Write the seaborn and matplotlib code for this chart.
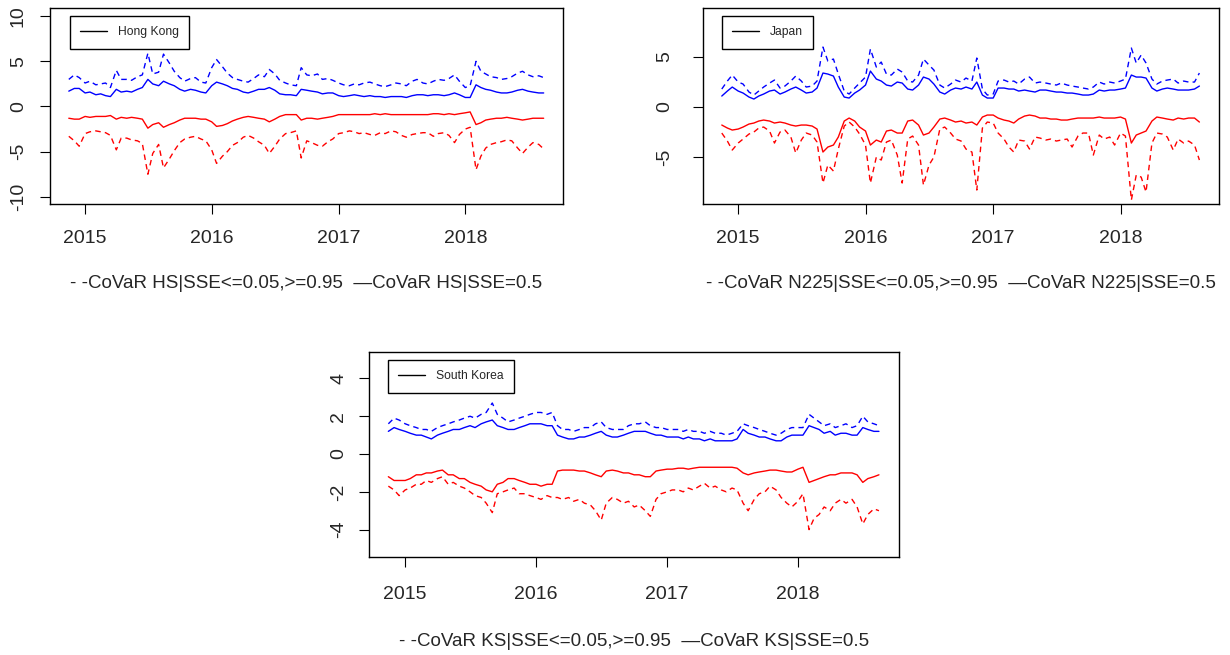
import pandas as pd
import numpy as np
import seaborn as sns
import matplotlib.pyplot as plt
from matplotlib.lines import Line2D

sns.set_style('ticks')
plt.rcParams['font.family'] = ['Liberation Sans', 'DejaVu Sans']

# semi-monthly readings, Nov 2014 - Aug 2018
dates = pd.date_range('2014-11-15', '2018-08-15', freq='SMS')

# Hong Kong
hk_up = [3.0, 3.5, 3.2, 2.6, 2.8, 2.4, 2.5, 2.6, 2.1, 4.0,
         3.0, 3.0, 2.9, 3.3, 3.5, 5.9, 3.6, 3.8, 5.8, 4.8,
         3.9, 3.2, 2.8, 3.1, 3.2, 2.7, 2.6, 4.3, 5.2, 4.4,
         3.7, 3.2, 3.0, 2.8, 2.7, 3.1, 3.5, 3.3, 4.1, 3.6,
         2.9, 2.6, 2.4, 2.3, 4.3, 3.5, 3.4, 3.6, 3.0, 3.1,
         2.9, 2.6, 2.4, 2.3, 2.5, 2.4, 2.6, 2.7, 2.5, 2.3,
         2.2, 2.4, 2.6, 2.5, 2.3, 2.8, 3.0, 2.6, 2.5, 2.8,
         3.0, 2.9, 3.1, 3.5, 2.8, 2.1, 2.3, 5.0, 3.9, 3.6,
         3.3, 3.2, 3.0, 3.1, 3.3, 3.7, 3.9, 3.5, 3.3, 3.4,
         3.2]
hk_mid_up = [1.7, 2.0, 2.0, 1.5, 1.6, 1.3, 1.4, 1.2, 1.1, 1.9,
             1.6, 1.7, 1.6, 1.9, 2.1, 3.0, 2.5, 2.3, 2.8, 2.5,
             2.3, 1.9, 1.7, 1.9, 1.8, 1.6, 1.5, 2.3, 2.7, 2.5,
             2.3, 2.0, 1.9, 1.6, 1.5, 1.7, 1.9, 1.9, 2.1, 1.8,
             1.4, 1.3, 1.3, 1.2, 1.9, 1.8, 1.7, 1.6, 1.4, 1.5,
             1.5, 1.2, 1.1, 1.2, 1.3, 1.2, 1.1, 1.2, 1.1, 1.1,
             1.0, 1.1, 1.1, 1.1, 1.0, 1.2, 1.3, 1.3, 1.2, 1.3,
             1.3, 1.2, 1.3, 1.5, 1.3, 1.0, 1.0, 2.4, 2.1, 1.9,
             1.8, 1.6, 1.5, 1.5, 1.6, 1.8, 1.9, 1.7, 1.6, 1.5,
             1.5]
hk_mid_lo = [-1.3, -1.4, -1.4, -1.1, -1.2, -1.1, -1.1, -1.1, -1.0, -1.4,
             -1.2, -1.3, -1.2, -1.3, -1.4, -2.4, -2.0, -1.8, -2.3, -2.0,
             -1.8, -1.5, -1.3, -1.3, -1.3, -1.4, -1.4, -1.7, -2.2, -2.1,
             -1.9, -1.6, -1.4, -1.2, -1.1, -1.2, -1.3, -1.4, -1.7, -1.4,
             -1.1, -0.9, -0.9, -0.9, -1.5, -1.3, -1.3, -1.4, -1.3, -1.2,
             -1.1, -0.9, -0.9, -0.9, -0.9, -0.9, -0.9, -0.9, -0.8, -0.9,
             -0.8, -0.9, -0.9, -0.9, -0.9, -0.9, -0.9, -0.9, -0.9, -0.8,
             -0.8, -0.9, -0.8, -0.9, -0.8, -0.7, -0.6, -2.0, -1.8, -1.5,
             -1.4, -1.3, -1.3, -1.2, -1.3, -1.4, -1.5, -1.4, -1.3, -1.3,
             -1.3]
hk_lo = [-3.3, -3.8, -4.4, -3.0, -2.8, -2.7, -2.8, -2.9, -3.2, -4.8,
         -3.5, -3.5, -3.7, -3.8, -4.1, -7.5, -5.2, -4.2, -6.8, -5.8,
         -4.9, -4.0, -3.6, -3.4, -3.3, -3.6, -3.8, -4.8, -6.3, -5.5,
         -5.0, -4.3, -4.0, -3.4, -3.2, -3.5, -3.9, -4.3, -5.2, -4.4,
         -3.6, -3.0, -2.9, -2.7, -5.7, -3.8, -4.0, -4.3, -4.4, -3.9,
         -3.6, -3.0, -2.9, -2.7, -2.8, -3.0, -2.9, -3.1, -3.2, -2.9,
         -3.0, -2.7, -2.8, -3.2, -3.4, -3.1, -3.0, -2.9, -2.9, -3.3,
         -3.0, -2.9, -3.2, -4.0, -3.1, -2.5, -2.3, -7.0, -5.5, -4.6,
         -4.2, -4.0, -3.9, -3.7, -3.8, -4.6, -5.2, -4.5, -4.0, -4.2,
         -4.7]

# Japan
jp_up = [1.8, 2.6, 3.2, 2.5, 2.3, 1.5, 1.2, 1.6, 2.0, 2.4,
         2.7, 1.9, 2.1, 2.6, 3.1, 2.6, 2.0, 2.1, 2.6, 6.0,
         4.6, 4.8, 3.3, 1.6, 1.3, 1.9, 2.4, 3.0, 5.8, 4.0,
         4.5, 3.3, 3.2, 3.8, 3.5, 2.6, 2.5, 3.2, 4.8, 4.2,
         3.7, 2.2, 1.9, 2.3, 2.7, 2.5, 2.9, 2.6, 4.9, 1.8,
         1.2, 1.3, 2.6, 2.7, 2.5, 2.6, 2.3, 2.8, 3.0, 2.4,
         2.5, 2.4, 2.3, 2.2, 2.4, 2.2, 2.1, 2.0, 1.9, 1.8,
         2.0, 2.5, 2.3, 2.5, 2.4, 2.6, 2.8, 5.9, 4.4, 5.2,
         4.4, 2.8, 2.3, 2.6, 2.7, 2.8, 2.4, 2.6, 2.5, 2.5,
         3.4]
jp_mid_up = [1.1, 1.6, 2.0, 1.6, 1.4, 1.0, 0.8, 1.1, 1.3, 1.6,
             1.7, 1.3, 1.5, 1.8, 2.0, 1.7, 1.4, 1.5, 1.9, 3.4,
             3.3, 3.1, 2.0, 1.0, 0.9, 1.4, 1.7, 2.2, 3.6, 2.8,
             2.6, 2.2, 2.1, 2.5, 2.4, 1.8, 1.7, 2.2, 3.0, 2.8,
             2.3, 1.5, 1.3, 1.7, 1.9, 1.8, 2.0, 1.8, 2.5, 1.2,
             0.9, 0.9, 1.9, 1.9, 1.8, 1.8, 1.6, 1.7, 1.6, 1.5,
             1.7, 1.7, 1.6, 1.5, 1.5, 1.4, 1.4, 1.3, 1.2, 1.2,
             1.3, 1.7, 1.6, 1.7, 1.7, 1.8, 1.9, 3.2, 3.0, 3.0,
             2.9, 1.9, 1.6, 1.8, 1.9, 1.8, 1.7, 1.7, 1.7, 1.8,
             2.1]
jp_mid_lo = [-1.8, -2.1, -2.3, -2.2, -2.0, -1.7, -1.6, -1.4, -1.3, -1.4,
             -1.6, -1.5, -1.6, -1.8, -1.9, -1.8, -1.8, -1.9, -2.2, -4.5,
             -4.0, -3.8, -3.0, -1.4, -1.1, -1.4, -2.0, -2.4, -3.8, -3.3,
             -3.5, -2.4, -2.3, -2.6, -2.6, -1.4, -1.3, -1.8, -2.8, -2.6,
             -2.0, -1.2, -1.1, -1.3, -1.5, -1.4, -1.6, -1.5, -1.8, -1.0,
             -0.8, -0.8, -1.1, -1.3, -1.4, -1.6, -1.2, -0.9, -0.8, -0.9,
             -1.1, -1.1, -1.2, -1.2, -1.3, -1.3, -1.2, -1.1, -1.1, -1.1,
             -1.1, -1.0, -1.1, -1.1, -1.1, -1.0, -1.2, -3.6, -2.8, -2.6,
             -2.4, -1.4, -1.0, -1.1, -1.2, -1.3, -1.1, -1.2, -1.1, -1.1,
             -1.5]
jp_lo = [-2.6, -3.4, -4.3, -3.6, -3.2, -2.7, -2.5, -2.1, -2.0, -2.4,
         -3.6, -2.5, -2.3, -3.0, -4.6, -3.3, -2.6, -2.8, -3.5, -7.6,
         -5.8, -6.4, -4.2, -1.9, -1.5, -2.0, -2.7, -3.8, -7.6, -5.0,
         -5.3, -3.5, -3.3, -4.8, -7.6, -3.2, -2.9, -3.8, -7.8, -5.8,
         -5.0, -2.2, -2.0, -2.6, -3.2, -3.4, -4.2, -4.5, -8.3, -2.1,
         -1.5, -1.6, -2.6, -3.2, -4.0, -4.5, -3.3, -3.4, -4.2, -3.0,
         -3.1, -3.3, -3.2, -3.4, -3.3, -3.2, -4.0, -2.9, -2.6, -2.6,
         -4.8, -2.8, -3.2, -3.0, -3.8, -2.6, -2.9, -9.3, -6.8, -7.0,
         -8.5, -3.6, -2.6, -2.7, -3.0, -4.3, -3.2, -3.6, -3.4, -3.8,
         -5.3]

# South Korea
kr_up = [1.6, 1.9, 1.8, 1.6, 1.5, 1.4, 1.3, 1.3, 1.2, 1.4,
         1.5, 1.6, 1.7, 1.8, 1.9, 2.0, 1.9, 2.1, 2.2, 2.7,
         2.1, 1.9, 1.7, 1.8, 1.9, 2.0, 2.1, 2.2, 2.2, 2.1,
         2.2, 1.5, 1.3, 1.3, 1.2, 1.3, 1.4, 1.4, 1.6, 1.7,
         1.4, 1.3, 1.3, 1.3, 1.5, 1.6, 1.6, 1.7, 1.5, 1.4,
         1.4, 1.3, 1.3, 1.3, 1.2, 1.3, 1.2, 1.2, 1.1, 1.2,
         1.1, 1.1, 1.0, 1.1, 1.2, 1.6, 1.5, 1.4, 1.3, 1.2,
         1.1, 1.0, 1.1, 1.3, 1.4, 1.4, 1.4, 2.1, 1.9, 1.7,
         1.5, 1.6, 1.4, 1.5, 1.6, 1.4, 1.5, 2.0, 1.7, 1.6,
         1.5]
kr_mid_up = [1.2, 1.4, 1.3, 1.2, 1.1, 1.0, 1.0, 0.9, 0.8, 1.0,
             1.1, 1.2, 1.3, 1.3, 1.4, 1.5, 1.4, 1.6, 1.7, 1.8,
             1.5, 1.4, 1.3, 1.3, 1.4, 1.5, 1.6, 1.6, 1.6, 1.5,
             1.5, 1.0, 0.9, 0.8, 0.8, 0.9, 0.9, 1.0, 1.1, 1.2,
             1.0, 0.9, 0.9, 1.0, 1.1, 1.2, 1.2, 1.2, 1.1, 1.0,
             1.0, 0.9, 0.9, 0.9, 0.8, 0.9, 0.8, 0.8, 0.7, 0.8,
             0.7, 0.7, 0.7, 0.7, 0.8, 1.3, 1.1, 1.0, 0.9, 0.9,
             0.8, 0.7, 0.7, 0.9, 1.0, 1.0, 1.0, 1.5, 1.4, 1.3,
             1.1, 1.2, 1.0, 1.1, 1.1, 1.0, 1.0, 1.4, 1.3, 1.2,
             1.2]
kr_mid_lo = [-1.2, -1.4, -1.4, -1.4, -1.3, -1.1, -1.1, -1.0, -1.0, -0.9,
             -0.85, -1.1, -1.1, -1.3, -1.3, -1.5, -1.6, -1.7, -1.9, -2.0,
             -1.6, -1.5, -1.3, -1.3, -1.4, -1.5, -1.6, -1.6, -1.7, -1.6,
             -1.6, -0.9, -0.85, -0.85, -0.85, -0.9, -0.9, -1.0, -1.1, -1.2,
             -0.9, -0.85, -0.9, -1.0, -1.0, -1.1, -1.1, -1.2, -1.2, -0.9,
             -0.85, -0.8, -0.8, -0.75, -0.75, -0.8, -0.75, -0.7, -0.7, -0.7,
             -0.7, -0.7, -0.7, -0.7, -0.75, -1.0, -1.1, -1.0, -0.95, -0.9,
             -0.85, -0.85, -0.9, -0.95, -0.95, -0.8, -0.7, -1.5, -1.4, -1.3,
             -1.2, -1.1, -1.1, -1.0, -1.0, -1.0, -1.1, -1.5, -1.3, -1.2,
             -1.1]
kr_lo = [-1.7, -1.9, -2.2, -1.9, -1.8, -1.6, -1.6, -1.4, -1.5, -1.3,
         -1.2, -1.6, -1.5, -1.7, -1.8, -2.0, -2.2, -2.3, -2.6, -3.1,
         -2.1, -2.0, -1.9, -1.8, -2.1, -2.1, -2.2, -2.3, -2.4, -2.2,
         -2.3, -2.3, -2.4, -2.3, -2.5, -2.4, -2.6, -2.7, -3.0, -3.5,
         -2.6, -2.3, -2.4, -2.6, -2.5, -2.8, -2.7, -3.0, -3.3, -2.4,
         -2.1, -2.0, -1.9, -1.9, -2.0, -1.8, -1.9, -1.7, -1.55, -1.8,
         -1.7, -1.9, -2.0, -1.8, -1.9, -2.6, -3.0, -2.4, -2.1, -2.0,
         -1.7, -1.9, -2.3, -2.6, -2.8, -2.5, -2.1, -4.0, -3.4, -3.2,
         -2.8, -3.0, -2.6, -2.4, -2.6, -2.4, -2.8, -3.7, -3.2, -2.9,
         -3.0]

year_ticks = ['2015', '2016', '2017', '2018']

fig = plt.figure(figsize=(12.3, 6.55), dpi=100)


def panel(rect, up, mid_up, mid_lo, lo, name, ylim, yticks, leg_xy, ypad, xpad):
    ax = fig.add_axes(rect)
    df = pd.DataFrame({'date': dates, 'up': up, 'mid_up': mid_up,
                       'mid_lo': mid_lo, 'lo': lo})
    sns.lineplot(data=df, x='date', y='up', ax=ax, color='blue', lw=1, ls=(0, (4, 3)))
    sns.lineplot(data=df, x='date', y='mid_up', ax=ax, color='blue', lw=1)
    sns.lineplot(data=df, x='date', y='mid_lo', ax=ax, color='red', lw=1)
    sns.lineplot(data=df, x='date', y='lo', ax=ax, color='red', lw=1, ls=(0, (4, 3)))
    ax.set_xlabel('')
    ax.set_ylabel('')
    ax.set_xlim(pd.Timestamp('2014-09-22'), pd.Timestamp('2018-10-10'))
    ax.set_ylim(ylim)
    ax.set_xticks([pd.Timestamp(y + '-01-01') for y in year_ticks])
    ax.set_xticklabels(year_ticks)
    ax.set_yticks(yticks)
    ax.set_yticklabels([str(t) for t in yticks], rotation=90, va='center')
    ax.tick_params(direction='out', length=7.2, width=0.8, labelsize=14, color='black')
    ax.tick_params(axis='x', pad=xpad)
    ax.tick_params(axis='y', pad=ypad)
    for s in ax.spines.values():
        s.set_color('black')
        s.set_linewidth(1)
    leg = ax.legend(handles=[Line2D([0], [0], color='black', lw=1)], labels=[name],
                    loc='upper left', bbox_to_anchor=leg_xy, borderaxespad=0,
                    fancybox=False, edgecolor='black', framealpha=1, fontsize=8.7,
                    handlelength=2.2, handletextpad=0.9, borderpad=0.85)
    leg.get_frame().set_linewidth(1)
    return ax


panel([0.0407, 0.6885, 0.4171, 0.2992], hk_up, hk_mid_up, hk_mid_lo, hk_lo,
      'Hong Kong', (-10.8, 10.9), [-10, -5, 0, 5, 10], (0.039, 0.959), 9.5, 11.5)
panel([0.5715, 0.6885, 0.4195, 0.2992], jp_up, jp_mid_up, jp_mid_lo, jp_lo,
      'Japan', (-9.7, 9.9), [-5, 0, 5], (0.037, 0.959), 14, 11.5)
panel([0.3, 0.1496, 0.4309, 0.313], kr_up, kr_mid_up, kr_mid_lo, kr_lo,
      'South Korea', (-5.45, 5.4), [-4, -2, 0, 2, 4], (0.036, 0.961), 8.6, 13.5)

fig.text(306.5 / 1230, 1 - 283 / 655, '- -CoVaR HS|SSE<=0.05,>=0.95  \u2014CoVaR HS|SSE=0.5',
         ha='center', va='center', fontsize=13.5)
fig.text(961 / 1230, 1 - 283 / 655, '- -CoVaR N225|SSE<=0.05,>=0.95  \u2014CoVaR N225|SSE=0.5',
         ha='center', va='center', fontsize=13.5)
fig.text(634 / 1230, 1 - 642 / 655, '- -CoVaR KS|SSE<=0.05,>=0.95  \u2014CoVaR KS|SSE=0.5',
         ha='center', va='center', fontsize=13.5)

fig.savefig('out.png', dpi=100)
